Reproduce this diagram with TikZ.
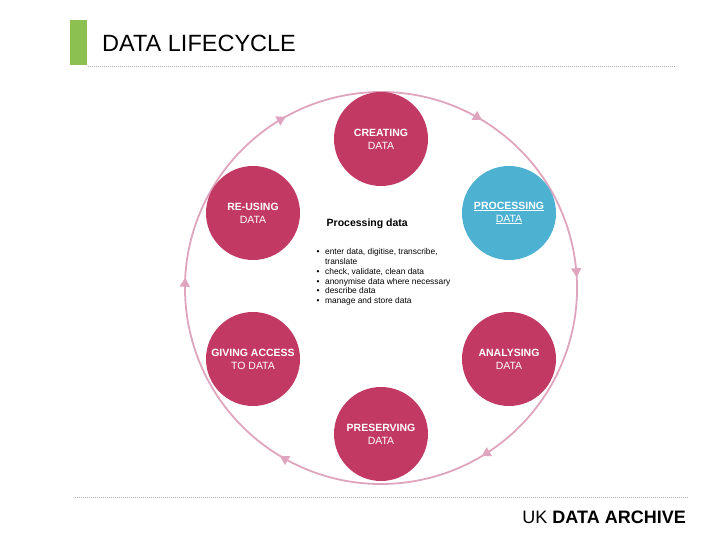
\documentclass[tikz,border=0pt]{standalone}
\usepackage{fontspec}
\setmainfont{Liberation Sans}
\usetikzlibrary{arrows.meta,decorations.markings}
\definecolor{stagec}{HTML}{C23A63}
\definecolor{procc}{HTML}{4DB1D2}
\definecolor{ringc}{HTML}{E0A5BE}
\definecolor{barc}{HTML}{8CC152}
\definecolor{dotc}{HTML}{B0B0B0}
\tikzset{
  stage/.style={circle, fill=stagec, minimum size=94pt, inner sep=0pt, text=white, align=center, font=\fontsize{10.5}{13}\selectfont},
  proc/.style={stage, fill=procc},
  dotline/.style={dotc, line width=0.6pt, dash pattern=on 0.6pt off 1.4pt},
  ringarrow/.style={decoration={markings,
     mark=at position 0.0361 with {\arrow[ringc]{Triangle[length=9pt,width=10pt]}},
     mark=at position 0.197 with {\arrow[ringc]{Triangle[length=9pt,width=10pt]}},
     mark=at position 0.364 with {\arrow[ringc]{Triangle[length=9pt,width=10pt]}},
     mark=at position 0.519 with {\arrow[ringc]{Triangle[length=9pt,width=10pt]}},
     mark=at position 0.692 with {\arrow[ringc]{Triangle[length=9pt,width=10pt]}},
     mark=at position 0.864 with {\arrow[ringc]{Triangle[length=9pt,width=10pt]}}},
     postaction={decorate}}
}
\begin{document}
\begin{tikzpicture}[x=1pt,y=1pt]
\useasboundingbox (0,0) rectangle (720,540);
% title
\fill[barc] (70,475) rectangle (87,520);
\node[anchor=base west, inner sep=0pt, font=\fontsize{23.5}{28}\selectfont] (title) at (102,488) {DATA LIFECYCLE};
\draw[dotline] (88,474) -- (676,474);
% ring
\coordinate (ringc) at (381,252);
\draw[ringc, line width=1.8pt, ringarrow] (ringc) ++(190:196) arc[start angle=190, end angle=-170, radius=196];
% stages
\node[stage] (create) at (381,401) {\textbf{CREATING}\\DATA};
\node[proc] (process) at (509,327) {\underline{\textbf{PROCESSING}}\\\underline{DATA}};
\node[stage] (analyse) at (509,181) {\textbf{ANALYSING}\\DATA};
\node[stage] (preserve) at (381,106) {\textbf{PRESERVING}\\DATA};
\node[stage] (access) at (253,181) {\textbf{GIVING ACCESS}\\TO DATA};
\node[stage] (reuse) at (253,327) {\textbf{RE-USING}\\DATA};
% processing text
\node[anchor=base west, inner sep=0pt, font=\fontsize{10.5}{13}\selectfont\bfseries] (ptitle) at (326.5,313.5) {Processing data};
\node[anchor=north west, inner sep=0pt, font=\fontsize{8.4}{9.7}\selectfont] (plist) at (316.5,292) {%
\begin{tabular}{@{}l@{\hspace{5.5pt}}l@{}}
\textbullet & enter data, digitise, transcribe,\\
 & translate\\
\textbullet & check, validate, clean data\\
\textbullet & anonymise data where necessary\\
\textbullet & describe data\\
\textbullet & manage and store data
\end{tabular}};
% footer
\draw[dotline] (75,43) -- (688,43);
\node[anchor=base east, inner sep=0pt, font=\fontsize{18}{22}\selectfont] (brand) at (686,16) {UK \textbf{DATA ARCHIVE}};
\end{tikzpicture}
\end{document}
